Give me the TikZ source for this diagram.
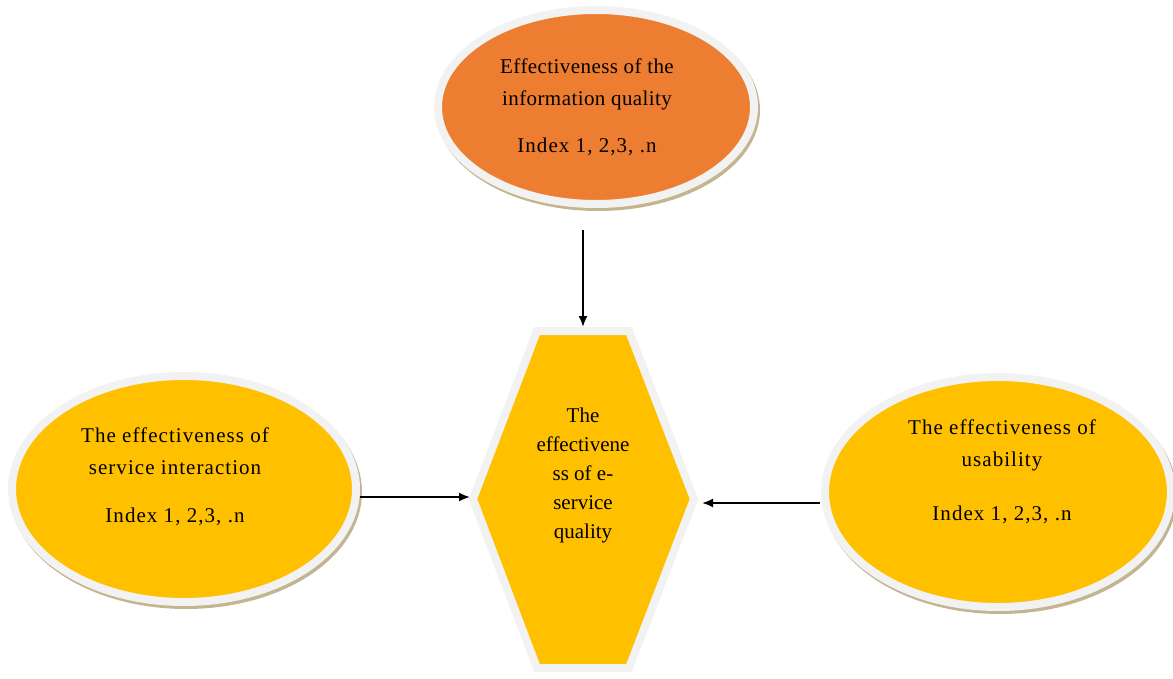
\documentclass[tikz,border=0pt]{standalone}
\usepackage{fontspec}
\setmainfont{Liberation Serif}
\usetikzlibrary{shapes.geometric,arrows.meta}
\tikzset{>={Latex[length=11pt,width=9pt]}}
\definecolor{myorange}{HTML}{ED7D31}
\definecolor{myyellow}{HTML}{FFC000}
\definecolor{myrim}{HTML}{F2F2F2}
\definecolor{mytan}{HTML}{C3B58F}
\newcommand{\loosetext}{\addfontfeature{LetterSpace=5}}
\newcommand{\slighttext}{\addfontfeature{LetterSpace=2}}
\tikzset{
  shadowed/.style={preaction={draw=mytan,fill=mytan,transform canvas={shift={(2pt,-3pt)}}}},
  bubble/.style={ellipse,draw=myrim,line width=8pt,inner sep=0pt,shadowed},
  txt/.style={align=center,font=\fontsize{21}{32}\selectfont},
  hextxt/.style={align=center,font=\fontsize{21}{29}\selectfont},
  link/.style={->,line width=1.8pt},
}

\begin{document}
\begin{tikzpicture}[x=1pt,y=-1pt]
  \useasboundingbox (0,0) rectangle (1173,679);
  % the three ellipses
  \node[bubble,fill=myorange,minimum width=316pt,minimum height=194pt] (info) at (596,107) {};
  \node[bubble,fill=myyellow,minimum width=344pt,minimum height=226pt] (servint) at (184,489) {};
  \node[bubble,fill=myyellow,minimum width=346pt,minimum height=230pt] (usab) at (998,492) {};
  \node[txt] (infotext) at (587,107) {{\slighttext Effectiveness of the}\\{\slighttext information quality}\\[15pt]{\loosetext Index 1, 2,3, .n}};
  \node[txt] (servtext) at (175,477) {{\loosetext The effectiveness of}\\{\loosetext service interaction}\\[16pt]{\loosetext Index 1, 2,3, .n}};
  \node[txt] (usabtext) at (1002,472) {{\loosetext The effectiveness of}\\{\loosetext usability}\\[22pt]{\loosetext Index 1, 2,3, .n}};
  % the hexagon
  \draw[draw=myrim,fill=myyellow,line width=8pt,line join=miter,shadowed]
    (537,331) -- (629,331) -- (694,499) -- (629,668) -- (537,668) -- (473,499) -- cycle;
  \node[hextxt] (quality) at (583,475) {The\\effectivene\\ss of e-\\service\\quality};
  \coordinate (hextop) at (583,327);
  \coordinate (hexleft) at (470,497);
  \coordinate (hexright) at (702,503);
  % arrows
  \coordinate (infoout) at (583,230);
  \coordinate (servout) at (360,497);
  \coordinate (usabout) at (820,503);
  \draw[link] (infoout) -- (hextop);
  \draw[link] (servout) -- (hexleft);
  \draw[link] (usabout) -- (hexright);
\end{tikzpicture}
\end{document}
